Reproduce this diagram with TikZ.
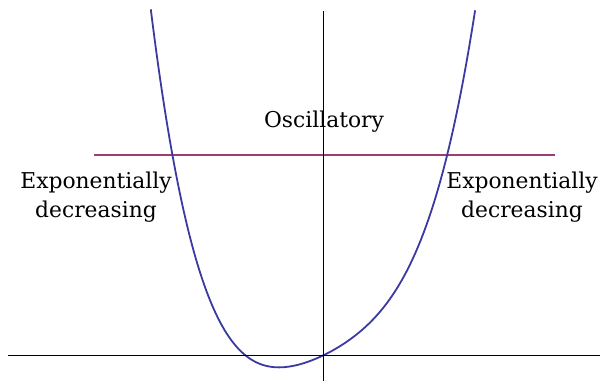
\documentclass[tikz,border=0pt]{standalone}
\usepackage{fontspec}
\setmainfont{DejaVu Serif}
\usetikzlibrary{positioning}
\definecolor{curveblue}{RGB}{58,58,160}
\definecolor{levelpurple}{RGB}{158,60,118}
\tikzset{
    axis/.style={
        black,
        line width=1pt
    },
    potential/.style={
        curveblue,
        line width=1.8pt
    },
    level/.style={
        levelpurple,
        line width=1.8pt
    },
    region/.style={
        font=\fontsize{21.8}{29}\selectfont,
        align=center,
        anchor=base
    }
}

\begin{document}
\begin{tikzpicture}[x=1pt, y=1pt]
\useasboundingbox (-324,-26) rectangle (276,355);

% energy level
\coordinate (levelleft) at (-230,200);
\coordinate (levelright) at (231,200);
\draw [level] (levelleft) -- (levelright);

% potential well
\draw [potential] plot[domain=-1.732:1.512, samples=120, smooth] ({100*\x}, {34.38*(\x)^4+40.22*(\x)^2+48.7*\x});

% axes
\coordinate (xleft) at (-316,0);
\coordinate (xright) at (276,0);
\coordinate (ybottom) at (0,-26);
\coordinate (ytop) at (0,344);
\draw [axis] (xleft) -- (xright);
\draw [axis] (ybottom) -- (ytop);

\node (osc) [region] at (0,227) {Oscillatory};
\node (decleft) [region] at (-228,138) {Exponentially\\decreasing};
\node (decright) [region] at (198,138) {Exponentially\\decreasing};

\end{tikzpicture}
\end{document}
